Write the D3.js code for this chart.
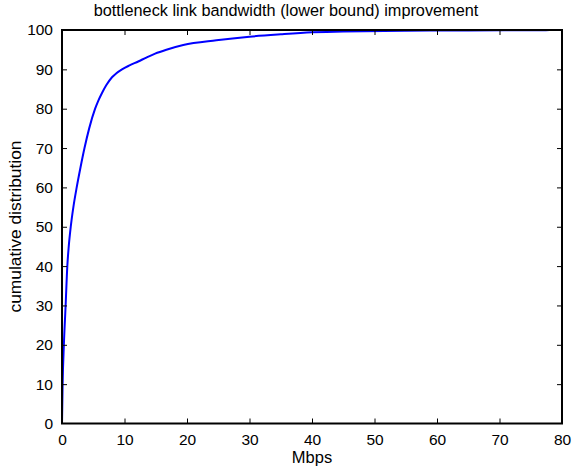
<!DOCTYPE html>
<html><head><meta charset="utf-8">
<script src="https://cdn.jsdelivr.net/npm/d3@7"></script>
<style>body{margin:0;background:#fff}svg text{font-family:"Liberation Sans",Arial,sans-serif}</style>
</head><body>
<svg id="c" width="572" height="469"></svg>
<script>
const mbps = [0, 0.1, 0.3, 0.58, 0.85, 1.08, 1.4, 1.82, 2.35, 2.95, 3.6, 4.35, 5.3, 5.8, 6.4, 7.1, 8.0, 8.7, 9.6, 10.8, 12.2, 13.5, 14.9, 16.7, 19.4, 24.7, 30, 35, 40, 45, 55, 65, 77, 78];
const cdf  = [0, 10, 20, 30, 40, 45, 50, 55, 60, 65, 70, 75, 80, 82, 84, 86, 88, 89, 90, 91, 92, 93, 94, 95, 96.2, 97.4, 98.3, 98.9, 99.4, 99.65, 99.8, 99.9, 99.95, 100];
const xTicks = [0, 10, 20, 30, 40, 50, 60, 70, 80];
const yTicks = [0, 10, 20, 30, 40, 50, 60, 70, 80, 90, 100];
const title = "bottleneck link bandwidth (lower bound) improvement";
const xLabel = "Mbps";
const yLabel = "cumulative distribution";

const svg = d3.select("#c");
const L = 62, R = 562, T = 30, B = 423.5;
const x = d3.scaleLinear().domain([0, 80]).range([L, R]);
const y = d3.scaleLinear().domain([0, 100]).range([B, T]);

// curve
const line = d3.line().x((d, i) => x(mbps[i])).y((d, i) => y(cdf[i])).curve(d3.curveMonotoneX);
svg.append("path").datum(cdf).attr("d", line)
  .attr("fill", "none").attr("stroke", "#0000ff").attr("stroke-width", 2);

// box
svg.append("rect").attr("x", L).attr("y", T).attr("width", R - L).attr("height", B - T)
  .attr("fill", "none").attr("stroke", "#000").attr("stroke-width", 2);

// axes with inward ticks
const tl = 5;
const gx = svg.append("g").attr("transform", `translate(0,${B})`)
  .call(d3.axisBottom(x).tickValues(xTicks).tickSize(-tl).tickPadding(10));
const gxt = svg.append("g").attr("transform", `translate(0,${T})`)
  .call(d3.axisTop(x).tickValues(xTicks).tickSize(-tl).tickFormat(""));
const gy = svg.append("g").attr("transform", `translate(${L},0)`)
  .call(d3.axisLeft(y).tickValues(yTicks).tickSize(-tl).tickPadding(9));
const gyr = svg.append("g").attr("transform", `translate(${R},0)`)
  .call(d3.axisRight(y).tickValues(yTicks).tickSize(-tl).tickFormat(""));
[gx, gxt, gy, gyr].forEach(g => {
  g.select(".domain").remove();
  g.selectAll("line").attr("stroke", "#000").attr("stroke-width", 1);
  g.selectAll("text").attr("fill", "#000").style("font-size", "15.5px")
   .style("font-family", '"Liberation Sans",Arial,sans-serif');
});
gx.selectAll("text").attr("dy", "0.71em");
[gx, gxt].forEach(g => g.selectAll(".tick").filter(d => d === 0 || d === 80).select("line").remove());
[gy, gyr].forEach(g => g.selectAll(".tick").filter(d => d === 0 || d === 100).select("line").remove());

svg.append("text").attr("x", 286).attr("y", 15.5).attr("text-anchor", "middle")
  .style("font-size", "16.3px").text(title);
svg.append("text").attr("x", 312).attr("y", 463).attr("text-anchor", "middle")
  .style("font-size", "16.5px").text(xLabel);
svg.append("text").attr("transform", `translate(20.7,226.5) rotate(-90)`)
  .attr("text-anchor", "middle").style("font-size", "17.4px").text(yLabel);
</script>
</body></html>
